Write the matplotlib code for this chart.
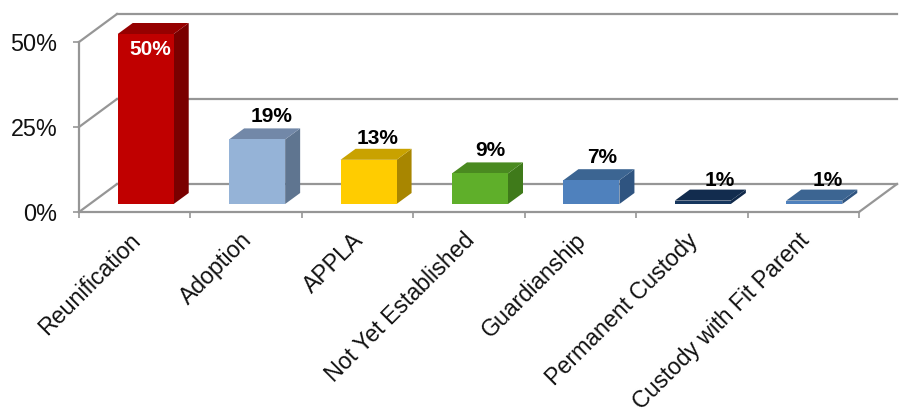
import matplotlib
matplotlib.use('Agg')
from matplotlib import pyplot as plt
from matplotlib.patches import Polygon

plt.rcParams['font.family'] = ['Liberation Sans', 'DejaVu Sans']

categories = ['Reunification', 'Adoption', 'APPLA', 'Not Yet Established',
              'Guardianship', 'Permanent Custody', 'Custody with Fit Parent']
values = [50, 19, 13, 9, 7, 1, 1]
y_ticks = [0, 25, 50]
front_colors = ['#C00000', '#95B3D7', '#FFCC00', '#5FAF2A', '#4F81BD', '#17375E', '#4F81BD']
side_colors = ['#7A0000', '#5F7590', '#A88600', '#3F7A1A', '#2F5480', '#10294A', '#2F5480']
top_colors = ['#960000', '#7288A8', '#C9A200', '#4A8A20', '#3C6592', '#122C4E', '#3C6592']

W, H = 903, 417
LEFT, RIGHT, Y0, Y50 = 79, 859, 212, 42
fig = plt.figure(figsize=(W / 100, H / 100), dpi=100)
ax = fig.add_axes([LEFT / W, 1 - Y0 / H, (RIGHT - LEFT) / W, (Y0 - Y50) / H])
ax.set_xlim(0, len(categories))
ax.set_ylim(0, 50)
for s in ax.spines.values():
    s.set_visible(False)

# pixel sizes to data units
px_x = len(categories) / (RIGHT - LEFT)
px_y = 50 / (Y0 - Y50)
wall_dx, wall_dy = 38 * px_x, 28 * px_y
bar_dx, bar_dy = 15 * px_x, 11 * px_y
bar_w = 56 * px_x
shift_x, shift_y = 11 * px_x, 8 * px_y
n = len(categories)
grid = '#969696'

def line(xs, ys, lw=1.6, z=1):
    ax.plot(xs, ys, color=grid, lw=lw, clip_on=False, zorder=z, solid_capstyle='projecting')

# walls and floor
for v in y_ticks:
    line([0, wall_dx], [v, v + wall_dy])
    line([wall_dx, n + wall_dx], [v + wall_dy, v + wall_dy])
line([0, 0], [0, 50])
line([0, n], [0, 0])
line([n, n + wall_dx], [0, wall_dy])

# bars
for i, v in enumerate(values):
    x0 = i + 0.5 - bar_w / 2 + shift_x
    x1 = x0 + bar_w
    b = shift_y
    t = shift_y + v
    ax.add_patch(Polygon([(x1, b), (x1 + bar_dx, b + bar_dy), (x1 + bar_dx, t + bar_dy), (x1, t)],
                         fc=side_colors[i], ec='none', clip_on=False, zorder=3))
    ax.add_patch(Polygon([(x0, t), (x1, t), (x1 + bar_dx, t + bar_dy), (x0 + bar_dx, t + bar_dy)],
                         fc=top_colors[i], ec='none', clip_on=False, zorder=3))
    ax.bar(x0, v, width=bar_w, bottom=b, align='edge', color=front_colors[i], clip_on=False, zorder=4)

# data labels, offset from the bar centre in pixels
label_dx = [5, 14, 9, 10, 11, 17, 13]
label_dy = [None, 6, 5, 6, 6, 4, 4]
for i, v in enumerate(values):
    xc = i + 0.5 + shift_x + label_dx[i] * px_x
    if i == 0:
        ax.text(xc, shift_y + v - 21 * px_y, '%d%%' % v, color='white', fontsize=15,
                fontweight='bold', ha='center', va='baseline', zorder=6)
    else:
        ax.text(xc, shift_y + v + bar_dy + label_dy[i] * px_y, '%d%%' % v, color='black', fontsize=15,
                fontweight='bold', ha='center', va='baseline', zorder=6)

ax.set_yticks(y_ticks)
ax.set_yticklabels(['%d%%' % v for v in y_ticks], fontsize=16.8, color='#111111')
ax.set_xticks(range(n + 1))
ax.set_xticklabels([''] * (n + 1))
ax.tick_params(axis='both', color=grid, width=1.2, length=4.5)
ax.tick_params(axis='x', length=4)
ax.tick_params(axis='y', pad=11)

# category labels anchored at their top right end
for i, c in enumerate(categories):
    ax.annotate(c, xy=(i + 0.5, 0), xytext=(-4, -12), textcoords='offset points',
                rotation=45, rotation_mode='anchor', ha='right', va='top',
                fontsize=16.7, color='#111111', annotation_clip=False)

fig.savefig('out.png', dpi=100)
